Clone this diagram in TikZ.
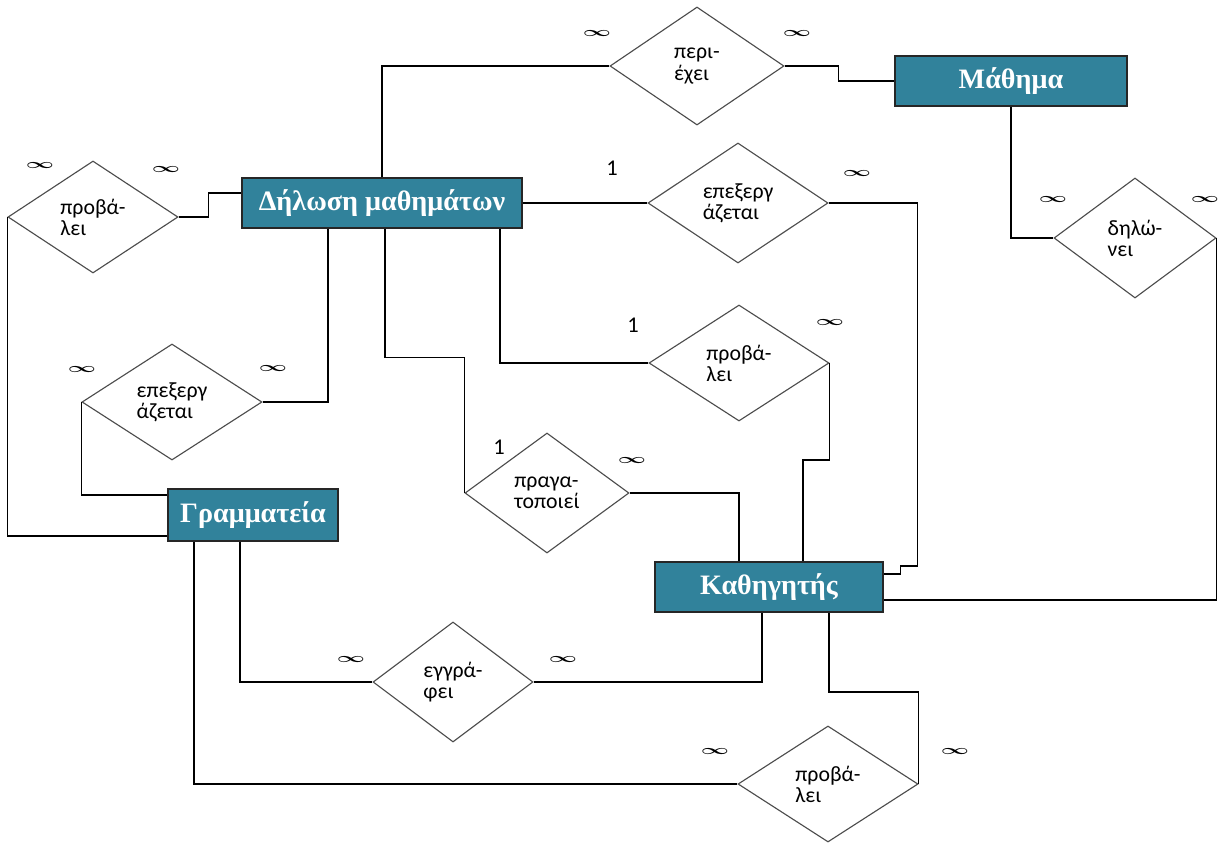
\documentclass[tikz,border=0pt]{standalone}
\usepackage{fontspec}
\setmainfont{Liberation Serif}
\newfontfamily\relfont{Carlito}
\usetikzlibrary{shapes.geometric,calc}
\definecolor{entfill}{RGB}{49,130,155}
\newcommand{\many}{{\fontsize{13}{14}\selectfont\boldmath\scalebox{1.45}[0.8]{$\infty$}}}

\tikzset{
  entity/.style={draw=black!85, line width=1pt, fill=entfill, text=white,
    font=\fontsize{20}{24}\selectfont\bfseries, minimum height=1.25cm, inner sep=0pt},
  rel/.style={diamond, draw=black!70, line width=0.8pt, align=left,
    font=\relfont\fontsize{15.5}{15}\selectfont, inner sep=0pt},
  card/.style={font=\relfont\fontsize{16}{18}\selectfont, inner sep=0pt},
  link/.style={line width=0.8pt, black}
}

\begin{document}
\begin{tikzpicture}[x=0.025cm,y=0.025cm]
\useasboundingbox (0,0) rectangle (1223,-843);

% entities
\node [entity, minimum width=5.8cm] (mathima) at (1011,-81) {Μάθημα};
\node [entity, minimum width=7cm] (dilosi) at (382,-203) {Δήλωση μαθημάτων};
\node [entity, minimum width=4.25cm, minimum height=1.3cm] (gram) at (253,-515) {Γραμματεία};
\node [entity, minimum width=5.7cm] (kath) at (769,-587) {Καθηγητής};

% relationships
\node [rel, minimum width=4.35cm, minimum height=2.95cm] (periexei) at (697,-66) {περι-\\έχει};
\node [rel, minimum width=4.25cm, minimum height=2.8cm] (probalei1) at (93,-217) {προβά-\\λει};
\node [rel, minimum width=4.5cm, minimum height=3cm] (epex1) at (738,-203) {επεξεργ\\άζεται};
\node [rel, minimum width=4.05cm, minimum height=3cm] (dilonei) at (1135,-238) {δηλώ-\\νει};
\node [rel, minimum width=4.5cm, minimum height=2.9cm] (epex2) at (172,-402) {επεξεργ\\άζεται};
\node [rel, minimum width=4.5cm, minimum height=2.9cm] (probalei2) at (739,-363) {προβά-\\λει};
\node [rel, minimum width=4.1cm, minimum height=3cm] (pragma) at (547,-493) {πραγα-\\τοποιεί};
\node [rel, minimum width=4cm, minimum height=3cm] (eggrafei) at (453,-682) {εγγρά-\\φει};
\node [rel, minimum width=4.5cm, minimum height=2.9cm] (probalei3) at (828,-784) {προβά-\\λει};

% links
\draw [link] (dilosi.north) |- (periexei.west);
\draw [link] (periexei.east) -- ++(54,0) |- (mathima.west);
\draw [link] (mathima.south) |- (dilonei.west);
\draw [link] (dilonei.east) |- ($(kath.east)+(0,-13)$);
\draw [link] (dilosi.east) -- (epex1.west);
\draw [link] (epex1.east) -- ++(89,0) -- ++(0,-363) -- ++(-17,0) |- ($(kath.east)+(0,13)$);
\draw [link] ($(dilosi.south)+(118,0)$) |- (probalei2.west);
\draw [link] (probalei2.east) -- ++(0,-97) -| ($(kath.north)+(34,0)$);
\draw [link] ($(dilosi.south)+(3,0)$) -- ++(0,-129) -| (pragma.west);
\draw [link] (pragma.east) -| ($(kath.north)+(-30,0)$);
\draw [link] ($(dilosi.south)+(-54,0)$) |- (epex2.east);
\draw [link] (epex2.west) |- ($(gram.west)+(0,20)$);
\draw [link] (probalei1.west) |- ($(gram.west)+(0,-21)$);
\draw [link] (probalei1.east) -- ++(30,0) |- ($(dilosi.west)+(0,10)$);
\draw [link] ($(gram.south)+(-13,0)$) |- (eggrafei.west);
\draw [link] (eggrafei.east) -| ($(kath.south)+(-7,0)$);
\draw [link] ($(gram.south)+(-59,0)$) |- (probalei3.west);
\draw [link] (probalei3.east) -- ++(0,92) -| ($(kath.south)+(60,0)$);

% cardinalities
\node [card] (c1) at (597,-33) {\many};
\node [card] (c2) at (797,-33) {\many};
\node [card] (c3) at (40,-165) {\many};
\node [card] (c4) at (166,-169) {\many};
\node [card] (c5) at (612,-168) {1};
\node [card] (c6) at (857,-173) {\many};
\node [card] (c7) at (1053,-199) {\many};
\node [card] (c8) at (1205,-199) {\many};
\node [card] (c9) at (633,-325) {1};
\node [card] (c10) at (830,-322) {\many};
\node [card] (c11) at (82,-369) {\many};
\node [card] (c12) at (273,-368) {\many};
\node [card] (c13) at (499,-447) {1};
\node [card] (c14) at (632,-460) {\many};
\node [card] (c15) at (351,-659) {\many};
\node [card] (c16) at (563,-659) {\many};
\node [card] (c17) at (715,-751) {\many};
\node [card] (c18) at (955,-751) {\many};
\end{tikzpicture}
\end{document}
